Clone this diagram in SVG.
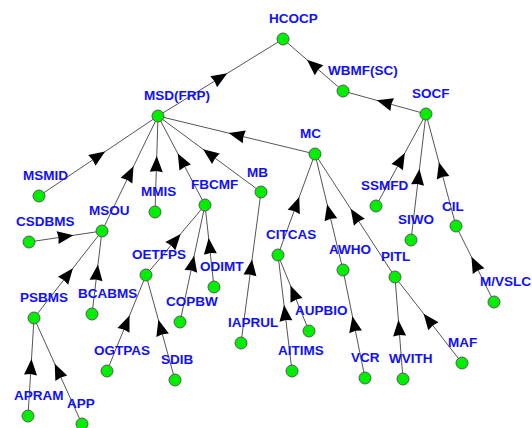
<svg xmlns="http://www.w3.org/2000/svg" width="532" height="428" viewBox="0 0 532 428">
<style>
.e{fill:none;stroke:#555;stroke-width:1;marker-mid:url(#arr)}
.n circle{fill:#00ee00;stroke:#5a5a5a;stroke-width:1}
.n text{font-family:"Liberation Sans",Arial,sans-serif;font-weight:bold;font-size:13.5px;fill:#1010ff}
</style>
<defs>
<marker id="arr" markerUnits="userSpaceOnUse" viewBox="-10 -8 20 16" markerWidth="20" markerHeight="16" refX="0" refY="0" orient="auto">
<path d="M8,0 L-8,-6.5 L-7,0 L-8,6.5 Z" fill="#000"/>
</marker>
</defs>
<rect width="532" height="428" fill="#fff"/>
<g id="connectors">
<polyline class="e" points="158,116 220.5,77.5 283,39"/>
<polyline class="e" points="343,91 313,65 283,39"/>
<polyline class="e" points="426,114 384.5,102.5 343,91"/>
<polyline class="e" points="315,154 236.5,135 158,116"/>
<polyline class="e" points="39,196 98.5,156 158,116"/>
<polyline class="e" points="102,231 130,173.5 158,116"/>
<polyline class="e" points="155,212 156.5,164 158,116"/>
<polyline class="e" points="205,205 181.5,160.5 158,116"/>
<polyline class="e" points="261,192 209.5,154 158,116"/>
<polyline class="e" points="29,242 65.5,236.5 102,231"/>
<polyline class="e" points="34,318 68,274.5 102,231"/>
<polyline class="e" points="92,314 97,272.5 102,231"/>
<polyline class="e" points="28,416 31,367 34,318"/>
<polyline class="e" points="82,424 58,371 34,318"/>
<polyline class="e" points="146,275 175.5,240 205,205"/>
<polyline class="e" points="180,322 192.5,263.5 205,205"/>
<polyline class="e" points="214,287 209.5,246 205,205"/>
<polyline class="e" points="107,371 126.5,323 146,275"/>
<polyline class="e" points="175,380 160.5,327.5 146,275"/>
<polyline class="e" points="241,343 251,267.5 261,192"/>
<polyline class="e" points="278,255 296.5,204.5 315,154"/>
<polyline class="e" points="343,270 329,212 315,154"/>
<polyline class="e" points="395,277 355,215.5 315,154"/>
<polyline class="e" points="309,331 293.5,293 278,255"/>
<polyline class="e" points="292,371 285,313 278,255"/>
<polyline class="e" points="365,378 354,324 343,270"/>
<polyline class="e" points="403,379 399,328 395,277"/>
<polyline class="e" points="462,363 428.5,320 395,277"/>
<polyline class="e" points="376,206 401,160 426,114"/>
<polyline class="e" points="411,240 418.5,177 426,114"/>
<polyline class="e" points="456,226 441,170 426,114"/>
<polyline class="e" points="494,302 475,264 456,226"/>
</g>
<g id="HCOCP" class="n"><circle cx="283" cy="39" r="6"/><text x="269" y="23">HCOCP</text></g>
<g id="WBMF_SC" class="n"><circle cx="343" cy="91" r="6"/><text x="328" y="75">WBMF(SC)</text></g>
<g id="SOCF" class="n"><circle cx="426" cy="114" r="6"/><text x="412" y="98">SOCF</text></g>
<g id="MC" class="n"><circle cx="315" cy="154" r="6"/><text x="300" y="138">MC</text></g>
<g id="MSD_FRP" class="n"><circle cx="158" cy="116" r="6"/><text x="144" y="100">MSD(FRP)</text></g>
<g id="MSMID" class="n"><circle cx="39" cy="196" r="6"/><text x="23" y="180">MSMID</text></g>
<g id="MMIS" class="n"><circle cx="155" cy="212" r="6"/><text x="141" y="196">MMIS</text></g>
<g id="FBCMF" class="n"><circle cx="205" cy="205" r="6"/><text x="191" y="189">FBCMF</text></g>
<g id="MB" class="n"><circle cx="261" cy="192" r="6"/><text x="247" y="177">MB</text></g>
<g id="MSOU" class="n"><circle cx="102" cy="231" r="6"/><text x="89" y="215">MSOU</text></g>
<g id="CSDBMS" class="n"><circle cx="29" cy="242" r="6"/><text x="16" y="226">CSDBMS</text></g>
<g id="PSBMS" class="n"><circle cx="34" cy="318" r="6"/><text x="20" y="302">PSBMS</text></g>
<g id="BCABMS" class="n"><circle cx="92" cy="314" r="6"/><text x="78" y="298">BCABMS</text></g>
<g id="OETFPS" class="n"><circle cx="146" cy="275" r="6"/><text x="132" y="259">OETFPS</text></g>
<g id="COPBW" class="n"><circle cx="180" cy="322" r="6"/><text x="166" y="306">COPBW</text></g>
<g id="ODIMT" class="n"><circle cx="214" cy="287" r="6"/><text x="200" y="271">ODIMT</text></g>
<g id="IAPRUL" class="n"><circle cx="241" cy="343" r="6"/><text x="228" y="327">IAPRUL</text></g>
<g id="OGTPAS" class="n"><circle cx="107" cy="371" r="6"/><text x="94" y="355">OGTPAS</text></g>
<g id="SDIB" class="n"><circle cx="175" cy="380" r="6"/><text x="161" y="364">SDIB</text></g>
<g id="APRAM" class="n"><circle cx="28" cy="416" r="6"/><text x="14" y="400">APRAM</text></g>
<g id="APP" class="n"><circle cx="82" cy="424" r="6"/><text x="67" y="408">APP</text></g>
<g id="CITCAS" class="n"><circle cx="278" cy="255" r="6"/><text x="266" y="239">CITCAS</text></g>
<g id="AWHO" class="n"><circle cx="343" cy="270" r="6"/><text x="329" y="254">AWHO</text></g>
<g id="PITL" class="n"><circle cx="395" cy="277" r="6"/><text x="381" y="261">PITL</text></g>
<g id="SIWO" class="n"><circle cx="411" cy="240" r="6"/><text x="398" y="224">SIWO</text></g>
<g id="CIL" class="n"><circle cx="456" cy="226" r="6"/><text x="442" y="211">CIL</text></g>
<g id="M_VSLC" class="n"><circle cx="494" cy="302" r="6"/><text x="480" y="286">M/VSLC</text></g>
<g id="AUPBIO" class="n"><circle cx="309" cy="331" r="6"/><text x="295" y="315">AUPBIO</text></g>
<g id="AITIMS" class="n"><circle cx="292" cy="371" r="6"/><text x="278" y="355">AITIMS</text></g>
<g id="VCR" class="n"><circle cx="365" cy="378" r="6"/><text x="351" y="362">VCR</text></g>
<g id="WVITH" class="n"><circle cx="403" cy="379" r="6"/><text x="389" y="363">WVITH</text></g>
<g id="MAF" class="n"><circle cx="462" cy="363" r="6"/><text x="448" y="347">MAF</text></g>
<g id="SSMFD" class="n"><circle cx="376" cy="206" r="6"/><text x="361" y="190">SSMFD</text></g>
</svg>
